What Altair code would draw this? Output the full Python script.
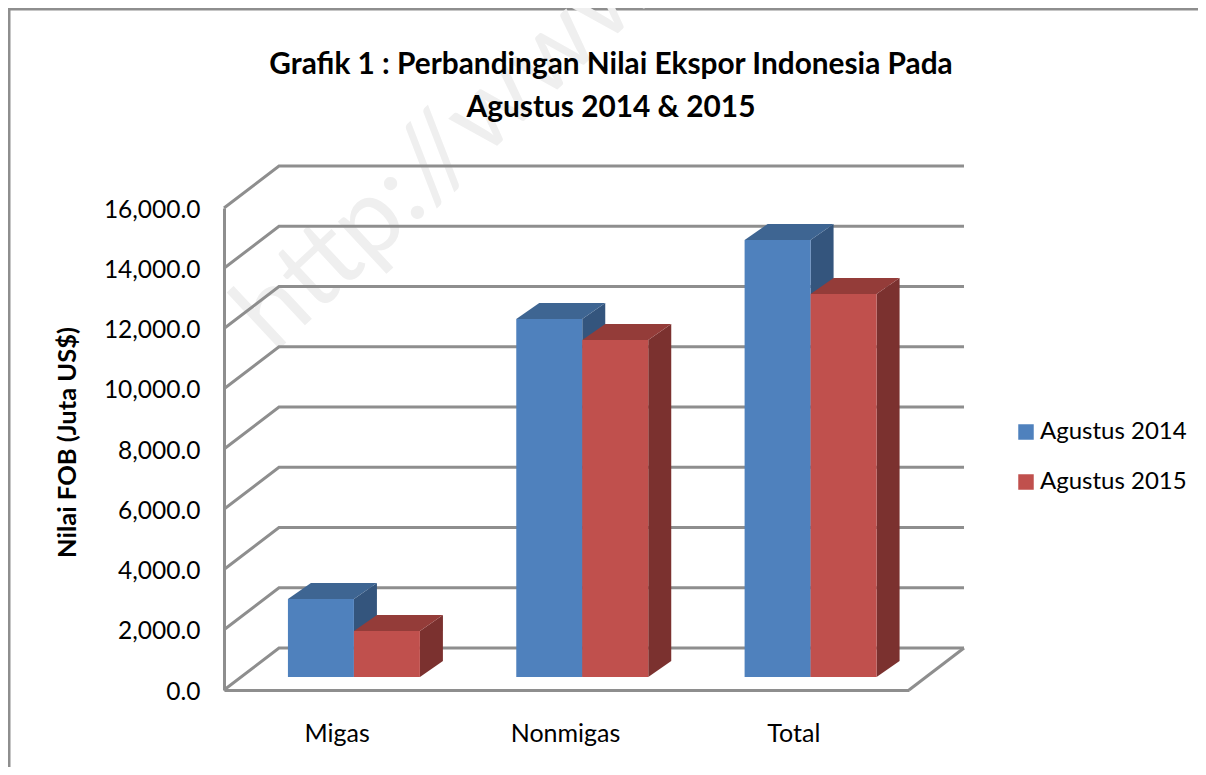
import altair as alt
import pandas as pd

categories = ["Migas", "Nonmigas", "Total"]
series_names = ["Agustus 2014", "Agustus 2015"]
values_2014 = [2590, 11885, 14505]
values_2015 = [1530, 11185, 12715]
y_ticks = [0, 2000, 4000, 6000, 8000, 10000, 12000, 14000, 16000]

title_lines = ["Grafik 1 : Perbandingan Nilai Ekspor Indonesia Pada", "Agustus 2014 & 2015"]
y_title = "Nilai FOB (Juta US$)"
watermark = "http://www"

FONT = "Lato"
GRID = "#8e8e8e"
front = {"Agustus 2014": "#4f81bd", "Agustus 2015": "#c0504d"}
top = {"Agustus 2014": "#3e6592", "Agustus 2015": "#943c39"}
side = {"Agustus 2014": "#34557d", "Agustus 2015": "#7b312f"}

W, H = 685, 482
PX_X = 3 / W
PX_Y = 16000 / H
WALL_DX, WALL_DY = 55 * PX_X, 42 * PX_Y
BAR_DX, BAR_DY = 23 * PX_X, 16 * PX_Y
BASE = 13 * PX_Y
LEFT, BAR_W = 0.28, 0.289

x_scale = alt.Scale(domain=[0, 3], nice=False)
y_scale = alt.Scale(domain=[0, 16000], nice=False)


def X(**kw):
    return alt.X("x:Q", scale=x_scale, **kw)


def Y(**kw):
    return alt.Y("y:Q", scale=y_scale, stack=None, **kw)


# wall and floor lines
walls = []
for t in y_ticks:
    walls += [
        {"id": t, "o": 0, "x": 0, "y": t},
        {"id": t, "o": 1, "x": WALL_DX, "y": t + WALL_DY},
        {"id": t, "o": 2, "x": 3 + WALL_DX, "y": t + WALL_DY},
    ]
walls += [
    {"id": "floor", "o": 0, "x": 3, "y": 0},
    {"id": "floor", "o": 1, "x": 3 + WALL_DX, "y": WALL_DY},
]
wall_layer = alt.Chart(pd.DataFrame(walls)).mark_line(
    color=GRID, strokeWidth=3, strokeJoin="miter", clip=False
).encode(
    x=X(axis=alt.Axis(
        values=[0.5, 1.5, 2.5],
        labelExpr="['Migas','Nonmigas','Total'][floor(datum.value)]",
        title=None, ticks=False, grid=False, domainColor=GRID, domainWidth=3,
        labelFont=FONT, labelFontSize=25, labelColor="#000000", labelPadding=43,
        labelBaseline="middle", labelAngle=0, labelOffset=-1.5,
    )),
    y=Y(axis=alt.Axis(
        values=y_ticks, format=",.1f", title=y_title, ticks=False, grid=False,
        domainColor=GRID, domainWidth=3, labelFont=FONT, labelFontSize=24.5,
        labelColor="#000000", labelPadding=24, labelOffset=2,
        titleFont=FONT, titleFontSize=25.5, titleFontWeight="bold", titleColor="#000000",
        titleX=-144, titleY=234, titleAngle=270,
    )),
    detail="id:N",
    order="o:Q",
)

layers = [wall_layer]

mark_text_layer = alt.Chart(pd.DataFrame({"t": [watermark]})).mark_text(
    font=FONT, fontSize=105, fontWeight=400, color="#efefef", angle=317, align="left",
    baseline="alphabetic",
).encode(text="t:N", x=alt.value(50), y=alt.value(146))
layers.insert(0, mark_text_layer)

# bars: one set of three faces per series
for s, (name, vals) in enumerate(zip(series_names, [values_2014, values_2015])):
    sides, tops, fronts = [], [], []
    for i, (c, v) in enumerate(zip(categories, vals)):
        x0 = i + LEFT + s * BAR_W
        x1 = x0 + BAR_W
        yt = v + BASE
        sides += [
            {"id": c, "x": x1, "y": yt, "y2": BASE},
            {"id": c, "x": x1 + BAR_DX, "y": yt + BAR_DY, "y2": BASE + BAR_DY},
        ]
        tops += [
            {"id": c, "x": x0, "y": yt, "y2": yt},
            {"id": c, "x": x0 + BAR_DX, "y": yt + BAR_DY, "y2": yt},
            {"id": c, "x": x1, "y": yt + BAR_DY, "y2": yt},
            {"id": c, "x": x1 + BAR_DX, "y": yt + BAR_DY, "y2": yt + BAR_DY},
        ]
        fronts.append({"cat": c, "x": x0, "x2": x1, "y": yt, "y2": BASE, "series": name})
    layers.append(alt.Chart(pd.DataFrame(sides)).mark_area(color=side[name], clip=False).encode(
        x=X(), y=Y(), y2="y2:Q", detail="id:N"))
    layers.append(alt.Chart(pd.DataFrame(tops)).mark_area(color=top[name], clip=False).encode(
        x=X(), y=Y(), y2="y2:Q", detail="id:N"))
    layers.append(alt.Chart(pd.DataFrame(fronts)).mark_rect(clip=False).encode(
        x=X(), x2="x2:Q", y=Y(), y2="y2:Q",
        color=alt.Color("series:N", scale=alt.Scale(domain=series_names, range=[front[n] for n in series_names]),
                        legend=alt.Legend(
                            title=None, orient="none", legendX=790, legendY=212, direction="vertical",
                            symbolType="square", symbolSize=240, symbolStrokeWidth=0, symbolOpacity=1,
                            labelFont=FONT, labelFontSize=24, labelColor="#000000", labelOffset=2,
                            rowPadding=26, padding=0,
                        )),
    ))

frame = [
    alt.Chart(pd.DataFrame({"a": [0]})).mark_rule(color=GRID, strokeWidth=3).encode(
        x=alt.value(-215), x2=alt.value(974), y=alt.value(-199)),
    alt.Chart(pd.DataFrame({"a": [0]})).mark_rule(color=GRID, strokeWidth=3).encode(
        x=alt.value(-215), y=alt.value(-200), y2=alt.value(559)),
]

title_layers = [
    alt.Chart(pd.DataFrame({"t": [line]})).mark_text(
        font=FONT, fontSize=29.8, fontWeight="bold", color="#000000", align="center", baseline="middle",
    ).encode(text="t:N", x=alt.value(387), y=alt.value(dy))
    for line, dy in zip(title_lines, [-143, -100])
]

chart = alt.layer(*frame, *layers, *title_layers).resolve_scale(color="shared").properties(
    width=W, height=H,
    padding={"left": 216, "top": 200, "right": 289, "bottom": 77},
    autosize=alt.AutoSizeParams(type="none"),
    background="white",
).configure_view(stroke=None)

chart.save("out.html", embed_options={"renderer": "svg", "actions": False})
